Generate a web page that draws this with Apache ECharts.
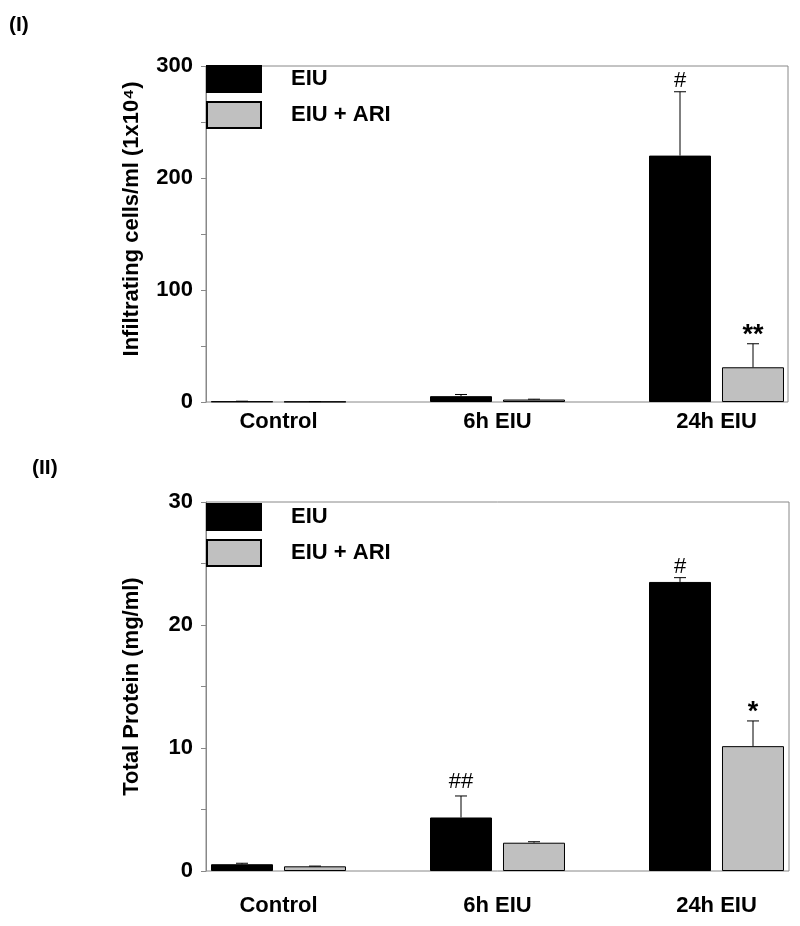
<!DOCTYPE html>
<html>
<head>
<meta charset="utf-8">
<script src="https://cdn.jsdelivr.net/npm/echarts@6/dist/echarts.min.js"></script>
<style>
  html, body { margin: 0; padding: 0; background: #fff; }
  #chart { width: 800px; height: 926px; }
</style>
</head>
<body>
<div id="chart"></div>
<script>
const categories = ['Control', '6h EIU', '24h EIU'];
const seriesNames = ['EIU', 'EIU + ARI'];

// panel (I): infiltrating cells
const cellsEIU = [0.5, 5.2, 220];
const cellsEIUErr = [0.2, 1.5, 57];
const cellsARI = [0.3, 2.2, 31];
const cellsARIErr = [0.1, 0.3, 21];
const cellsEIUMarks = ['', '', '#'];
const cellsARIMarks = ['', '', '**'];

// panel (II): total protein
const protEIU = [0.55, 4.35, 23.5];
const protEIUErr = [0.08, 1.75, 0.35];
const protARI = [0.38, 2.3, 10.15];
const protARIErr = [0.02, 0.08, 2.05];
const protEIUMarks = ['', '##', '#'];
const protARIMarks = ['', '', '*'];

const FONT = 'Liberation Sans, Arial, sans-serif';
const BAR_W = 62;
const BAR_GAP = 11;
const GREY = '#c0c0c0';

const chart = echarts.init(document.getElementById('chart'));

function errorSeries(name, gridIdx, values, errs, marks, side) {
  return {
    type: 'custom',
    name: name + ' err',
    xAxisIndex: gridIdx,
    yAxisIndex: gridIdx,
    silent: true,
    z: 5,
    data: values.map((v, i) => [i, v, errs[i]]),
    renderItem: (params, api) => {
      const base = api.coord([api.value(0), api.value(1)]);
      const top = api.coord([api.value(0), api.value(1) + api.value(2)]);
      const x = base[0] + side * (BAR_W + BAR_GAP) / 2;
      const mark = marks[params.dataIndex];
      const children = [
        { type: 'line', shape: { x1: x, y1: base[1], x2: x, y2: top[1] },
          style: { stroke: '#000', lineWidth: 1 } },
        { type: 'line', shape: { x1: x - 6, y1: top[1], x2: x + 6, y2: top[1] },
          style: { stroke: '#000', lineWidth: 1 } }
      ];
      if (mark) {
        const star = mark.indexOf('*') >= 0;
        const shift = star ? 5 : (mark === '#' ? 0 : -3);
        children.push({
          type: 'text',
          x: x, y: top[1] + shift,
          style: {
            text: mark,
            fill: '#000',
            font: (star ? 'bold 27px ' : 'normal 22px ') + FONT,
            align: 'center',
            verticalAlign: 'bottom'
          }
        });
      }
      return { type: 'group', children: children };
    }
  };
}

function barSeries(name, gridIdx, values, color) {
  return {
    type: 'bar',
    name: name,
    xAxisIndex: gridIdx,
    yAxisIndex: gridIdx,
    barWidth: BAR_W,
    barGap: (BAR_GAP / BAR_W * 100).toFixed(1) + '%',
    data: values,
    itemStyle: { color: color, borderColor: '#000', borderWidth: 1 }
  };
}

function frameY(gridIdx, max, interval, labelEvery, name, namePad) {
  return {
    gridIndex: gridIdx,
    type: 'value',
    min: 0, max: max, interval: interval,
    name: name,
    nameLocation: 'middle',
    nameGap: 63,
    nameTextStyle: { fontFamily: FONT, fontSize: 22, fontWeight: 'bold', color: '#000', padding: namePad },
    axisLine: { show: true, lineStyle: { color: '#888' } },
    axisTick: { show: true, length: 5, lineStyle: { color: '#888' } },
    axisLabel: {
      fontFamily: FONT, fontSize: 22, fontWeight: 'bold', color: '#000', margin: 13,
      formatter: v => (v % labelEvery === 0 ? String(v) : '')
    },
    splitLine: { show: false }
  };
}

function hiddenY(gridIdx, max) {
  return { gridIndex: gridIdx, type: 'value', min: 0, max: max, show: false };
}

function catX(gridIdx, margin) {
  return {
    gridIndex: gridIdx,
    type: 'category',
    data: categories,
    axisLine: { show: false },
    axisTick: { show: false },
    axisLabel: { fontFamily: FONT, fontSize: 22, fontWeight: 'bold', color: '#000', margin: margin }
  };
}

const legendStyle = {
  orient: 'vertical',
  itemWidth: 54,
  itemHeight: 26,
  itemGap: 8,
  icon: 'rect',
  selectedMode: false,
  data: seriesNames,
  textStyle: { fontFamily: FONT, fontSize: 22, fontWeight: 'bold', color: '#000', padding: [0, 0, 0, 25] }
};

const option = {
  backgroundColor: '#fff',
  animation: false,
  title: [
    { text: '(I)', left: 4, top: 10, textStyle: { fontFamily: FONT, fontSize: 21, fontWeight: 'bold', color: '#000' } },
    { text: '(II)', left: 27, top: 453, textStyle: { fontFamily: FONT, fontSize: 21, fontWeight: 'bold', color: '#000' } }
  ],
  legend: [
    Object.assign({ left: 201, top: 60 }, legendStyle),
    Object.assign({ left: 201, top: 498 }, legendStyle)
  ],
  grid: [
    { left: 206, top: 66, width: 582, height: 336, show: true, borderColor: '#888', borderWidth: 1, outerBoundsMode: 'none' },
    { left: 169, top: 66, width: 657, height: 336, outerBoundsMode: 'none' },
    { left: 206, top: 502, width: 583, height: 369, show: true, borderColor: '#888', borderWidth: 1, outerBoundsMode: 'none' },
    { left: 169, top: 502, width: 657, height: 369, outerBoundsMode: 'none' }
  ],
  xAxis: [
    { gridIndex: 0, type: 'value', show: false },
    catX(1, 9),
    { gridIndex: 2, type: 'value', show: false },
    catX(3, 24)
  ],
  yAxis: [
    frameY(0, 300, 50, 100, 'Infiltrating cells/ml (1x10\u2074)', [0, 0, 0, 30]),
    hiddenY(1, 300),
    frameY(2, 30, 5, 10, 'Total Protein (mg/ml)', 0),
    hiddenY(3, 30)
  ],
  series: [
    barSeries(seriesNames[0], 1, cellsEIU, '#000'),
    barSeries(seriesNames[1], 1, cellsARI, GREY),
    errorSeries(seriesNames[0], 1, cellsEIU, cellsEIUErr, cellsEIUMarks, -1),
    errorSeries(seriesNames[1], 1, cellsARI, cellsARIErr, cellsARIMarks, 1),
    barSeries(seriesNames[0], 3, protEIU, '#000'),
    barSeries(seriesNames[1], 3, protARI, GREY),
    errorSeries(seriesNames[0], 3, protEIU, protEIUErr, protEIUMarks, -1),
    errorSeries(seriesNames[1], 3, protARI, protARIErr, protARIMarks, 1)
  ]
};

chart.setOption(option);
</script>
</body>
</html>
